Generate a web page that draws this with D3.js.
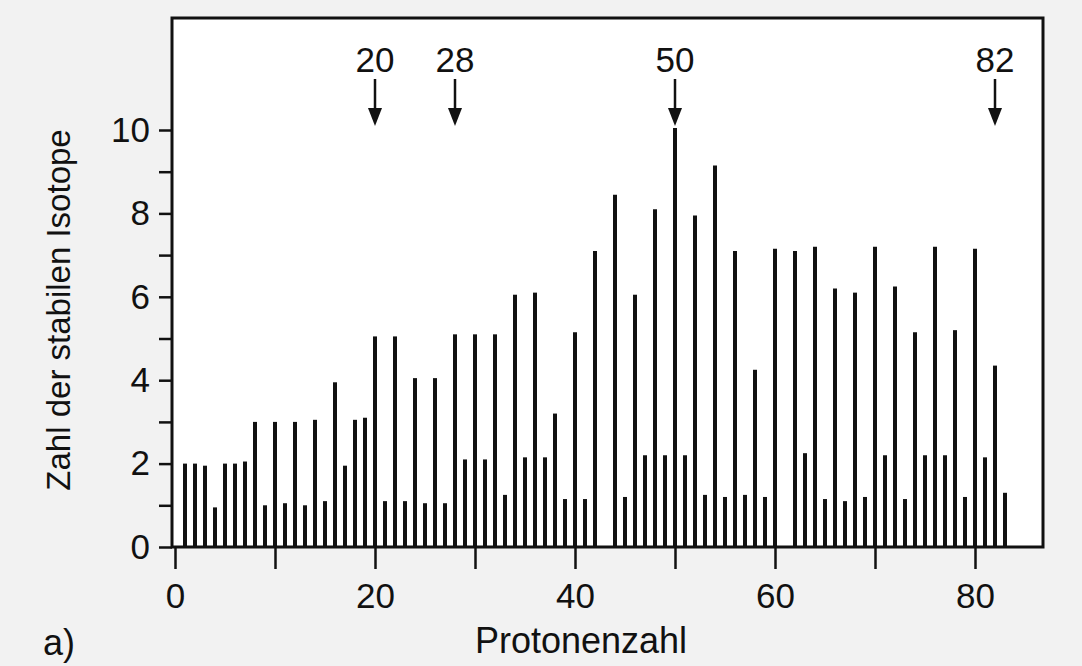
<!DOCTYPE html>
<html lang="de">
<head>
    <meta charset="UTF-8">
    <title>Zahl der stabilen Isotope</title>
    <script src="https://d3js.org/d3.v7.min.js"></script>
    <style>
        html, body { margin: 0; padding: 0; background: #f2f2f2; }
        svg { display: block; }
    </style>
</head>
<body>

<script>
  // proton numbers that have a bar (43 and 61 have none)
  var protonZ = [1, 2, 3, 4, 5, 6, 7, 8, 9, 10, 11, 12, 13, 14, 15, 16, 17, 18, 19, 20,
    21, 22, 23, 24, 25, 26, 27, 28, 29, 30, 31, 32, 33, 34, 35, 36, 37, 38, 39, 40,
    41, 42, 44, 45, 46, 47, 48, 49, 50, 51, 52, 53, 54, 55, 56, 57, 58, 59, 60,
    62, 63, 64, 65, 66, 67, 68, 69, 70, 71, 72, 73, 74, 75, 76, 77, 78, 79, 80,
    81, 82, 83];

  // bar heights
  var isotopeCount = [2.0, 2.0, 1.95, 0.95, 2.0, 2.0, 2.05, 3.0, 1.0, 3.0, 1.05, 3.0, 1.0, 3.05, 1.1, 3.95, 1.95, 3.05, 3.1, 5.05,
    1.1, 5.05, 1.1, 4.05, 1.05, 4.05, 1.05, 5.1, 2.1, 5.1, 2.1, 5.1, 1.25, 6.05, 2.15, 6.1, 2.15, 3.2, 1.15, 5.15,
    1.15, 7.1, 8.45, 1.2, 6.05, 2.2, 8.1, 2.2, 10.05, 2.2, 7.95, 1.25, 9.15, 1.2, 7.1, 1.25, 4.25, 1.2, 7.15,
    7.1, 2.25, 7.2, 1.15, 6.2, 1.1, 6.1, 1.2, 7.2, 2.2, 6.25, 1.15, 5.15, 2.2, 7.2, 2.2, 5.2, 1.2, 7.15,
    2.15, 4.35, 1.3];

  var magicNumbers = [20, 28, 50, 82];

  var xTicks = [0, 10, 20, 30, 40, 50, 60, 70, 80];
  var xTickLabels = ["0", "", "20", "", "40", "", "60", "", "80"];
  var yTicks = [0, 1, 2, 3, 4, 5, 6, 7, 8, 9, 10];
  var yTickLabels = ["0", "", "2", "", "4", "", "6", "", "8", "", "10"];

  drawChart();


  function drawChart() {

    var width = 1082;
    var height = 666;
    var left = 172, right = 1043, top = 18, bottom = 547;
    var font = "'Liberation Sans', Arial, sans-serif";
    var ink = "#111111";

    var svg = d3.select("body")
      .append("svg")
      .attr("width", width)
      .attr("height", height);

    // plot area
    svg.append("rect")
      .attr("x", left)
      .attr("y", top)
      .attr("width", right - left)
      .attr("height", bottom - top)
      .attr("fill", "#ffffff");

    var xScale = d3.scaleLinear()
      .domain([0, 80])
      .range([175, 975]);

    var yScale = d3.scaleLinear()
      .domain([0, 10])
      .range([bottom, 130]);

    // isotope bars
    svg.append("g")
      .selectAll("line")
      .data(protonZ)
      .join("line")
      .attr("x1", function (d) { return xScale(d); })
      .attr("x2", function (d) { return xScale(d); })
      .attr("y1", yScale(0))
      .attr("y2", function (d, i) { return yScale(isotopeCount[i]); })
      .attr("stroke", ink)
      .attr("stroke-width", 4);

    // frame
    svg.append("rect")
      .attr("x", left)
      .attr("y", top)
      .attr("width", right - left)
      .attr("height", bottom - top)
      .attr("fill", "none")
      .attr("stroke", ink)
      .attr("stroke-width", 3);

    // y axis
    var yAxis = d3.axisLeft(yScale)
      .tickValues(yTicks)
      .tickFormat(function (d, i) { return yTickLabels[i]; })
      .tickSize(13)
      .tickPadding(9);

    var gy = svg.append("g")
      .attr("transform", "translate(" + left + ",0)")
      .call(yAxis);
    styleAxis(gy);

    // x axis
    var xAxis = d3.axisBottom(xScale)
      .tickValues(xTicks)
      .tickFormat(function (d, i) { return xTickLabels[i]; })
      .tickSize(22)
      .tickPadding(14);

    var gx = svg.append("g")
      .attr("transform", "translate(0," + bottom + ")")
      .call(xAxis);
    styleAxis(gx);

    function styleAxis(g) {
      g.select(".domain").remove();
      g.selectAll(".tick line")
        .attr("stroke", ink)
        .attr("stroke-width", 2.5);
      g.selectAll(".tick text")
        .attr("fill", ink)
        .attr("font-family", font)
        .attr("font-size", 35);
    }

    // magic number arrows
    var arrows = svg.append("g")
      .selectAll("g")
      .data(magicNumbers)
      .join("g")
      .attr("transform", function (d) { return "translate(" + xScale(d) + ",0)"; });

    arrows.append("text")
      .attr("y", 72)
      .attr("text-anchor", "middle")
      .attr("font-family", font)
      .attr("font-size", 35)
      .attr("fill", ink)
      .text(function (d) { return d; });

    arrows.append("line")
      .attr("y1", 79)
      .attr("y2", 112)
      .attr("stroke", ink)
      .attr("stroke-width", 2.5);

    arrows.append("path")
      .attr("d", "M-7,108L7,108L0,126Z")
      .attr("fill", ink);

    // axis titles
    svg.append("text")
      .attr("transform", "translate(70,310) rotate(-90)")
      .attr("text-anchor", "middle")
      .attr("font-family", font)
      .attr("font-size", 33)
      .attr("fill", ink)
      .text("Zahl der stabilen Isotope");

    svg.append("text")
      .attr("x", 581)
      .attr("y", 653)
      .attr("text-anchor", "middle")
      .attr("font-family", font)
      .attr("font-size", 36)
      .attr("fill", ink)
      .text("Protonenzahl");

    svg.append("text")
      .attr("x", 43)
      .attr("y", 655)
      .attr("font-family", font)
      .attr("font-size", 36)
      .attr("fill", ink)
      .text("a)");
  }
</script>
</body>
</html>
